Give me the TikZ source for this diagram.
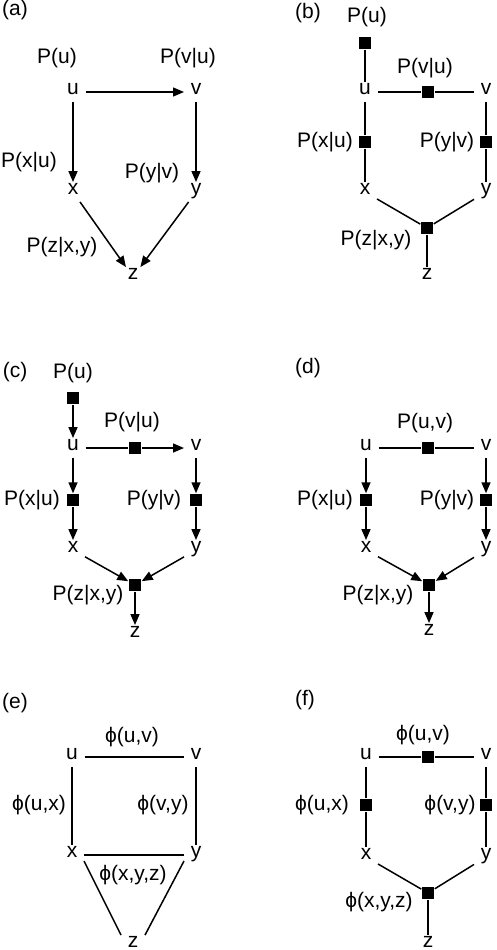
\documentclass[tikz,border=0pt]{standalone}
\usepackage{fontspec}
\setmainfont{Liberation Sans}
\usetikzlibrary{arrows.meta}

\tikzset{
  var/.style={inner sep=6pt,text height=0.52em,text depth=0.12em},
  fac/.style={fill,minimum size=12pt,inner sep=0pt},
  lbl/.style={inner sep=0pt},
  tag/.style={inner sep=0pt},
  arr/.style={-{Triangle[length=11pt,width=9pt]}}
}

\begin{document}
\begin{tikzpicture}[x=1pt,y=-1pt,line width=1.5pt,font=\fontsize{21}{25}\selectfont]
  \useasboundingbox (0,0) rectangle (496,950);

  \node[tag] (atag) at (15,10) {(a)};
  \node[lbl] (apu) at (57,58) {P(u)};
  \node[lbl] (apvu) at (188,58) {P(v|u)};
  \node[var] (au) at (73,92) {u};
  \node[var] (av) at (196,92) {v};
  \node[lbl] (apxu) at (29,162) {P(x|u)};
  \node[lbl] (apyv) at (152,173) {P(y|v)};
  \node[var] (ax) at (73,192) {x};
  \node[var] (ay) at (196,192) {y};
  \node[lbl] (apz) at (62,247) {P(z|x,y)};
  \node[var] (az) at (133,277) {z};
  \draw[arr] (au)--(av);
  \draw[arr] (au)--(ax);
  \draw[arr] (av)--(ay);
  \draw[arr] (ax)--(az);
  \draw[arr] (ay)--(az);

  \node[tag] (btag) at (308,13) {(b)};
  \node[lbl] (bpu) at (367,17) {P(u)};
  \node[fac] (bfu) at (365,43) {};
  \node[var] (bu) at (365,92) {u};
  \node[lbl] (bpvu) at (425,68) {P(v|u)};
  \node[fac] (bfvu) at (428,92) {};
  \node[var] (bv) at (486,92) {v};
  \node[lbl] (bpxu) at (325,142) {P(x|u)};
  \node[fac] (bfxu) at (365,142) {};
  \node[lbl] (bpyv) at (447,142) {P(y|v)};
  \node[fac] (bfyv) at (486,142) {};
  \node[var] (bx) at (365,192) {x};
  \node[var] (by) at (486,192) {y};
  \node[fac] (bfz) at (427,228) {};
  \node[lbl] (bpz) at (376,240) {P(z|x,y)};
  \node[var] (bz) at (427,277) {z};
  \draw (bfu)--(bu);
  \draw (bu)--(bfvu)--(bv);
  \draw (bu)--(bfxu)--(bx);
  \draw (bv)--(bfyv)--(by);
  \draw (bx)--(bfz)--(by);
  \draw (bfz)--(bz);

  \node[tag] (ctag) at (15,372) {(c)};
  \node[lbl] (cpu) at (73,373) {P(u)};
  \node[fac] (cfu) at (73,398) {};
  \node[var] (cu) at (73,448) {u};
  \node[lbl] (cpvu) at (132,422) {P(v|u)};
  \node[fac] (cfvu) at (135,448) {};
  \node[var] (cv) at (196,448) {v};
  \node[lbl] (cpxu) at (32,500) {P(x|u)};
  \node[fac] (cfxu) at (73,500) {};
  \node[lbl] (cpyv) at (154,500) {P(y|v)};
  \node[fac] (cfyv) at (196,500) {};
  \node[var] (cx) at (73,550) {x};
  \node[var] (cy) at (196,550) {y};
  \node[fac] (cfz) at (135,585) {};
  \node[lbl] (cpz) at (88,595) {P(z|x,y)};
  \node[var] (cz) at (135,635) {z};
  \draw[arr] (cfu)--(cu);
  \draw (cu)--(cfvu);
  \draw[arr] (cfvu)--(cv);
  \draw[arr] (cu)--(cfxu);
  \draw[arr] (cfxu)--(cx);
  \draw[arr] (cv)--(cfyv);
  \draw[arr] (cfyv)--(cy);
  \draw[arr] (cx)--(cfz);
  \draw[arr] (cy)--(cfz);
  \draw[arr] (cfz)--(cz);

  \node[tag] (dtag) at (308,368) {(d)};
  \node[lbl] (dpuv) at (425,423) {P(u,v)};
  \node[var] (du) at (366,448) {u};
  \node[fac] (dfuv) at (428,448) {};
  \node[var] (dv) at (486,448) {v};
  \node[lbl] (dpxu) at (325,500) {P(x|u)};
  \node[fac] (dfxu) at (366,500) {};
  \node[lbl] (dpyv) at (447,500) {P(y|v)};
  \node[fac] (dfyv) at (486,500) {};
  \node[var] (dx) at (366,550) {x};
  \node[var] (dy) at (486,550) {y};
  \node[fac] (dfz) at (429,585) {};
  \node[lbl] (dpz) at (378,595) {P(z|x,y)};
  \node[var] (dz) at (429,633) {z};
  \draw (du)--(dfuv)--(dv);
  \draw[arr] (du)--(dfxu);
  \draw[arr] (dfxu)--(dx);
  \draw[arr] (dv)--(dfyv);
  \draw[arr] (dfyv)--(dy);
  \draw[arr] (dx)--(dfz);
  \draw[arr] (dy)--(dfz);
  \draw[arr] (dfz)--(dz);

  \node[tag] (etag) at (15,703) {(e)};
  \node[lbl] (epuv) at (132,737) {ϕ(u,v)};
  \node[var] (eu) at (72,757) {u};
  \node[var] (ev) at (196,757) {v};
  \node[lbl] (epux) at (39,805) {ϕ(u,x)};
  \node[lbl] (epvy) at (163,805) {ϕ(v,y)};
  \node[var] (ex) at (72,855) {x};
  \node[var] (ey) at (196,855) {y};
  \node[lbl] (epxyz) at (133,875) {ϕ(x,y,z)};
  \node[var] (ez) at (133,945) {z};
  \draw (eu)--(ev);
  \draw (eu)--(ex);
  \draw (ev)--(ey);
  \draw (ex)--(ey);
  \draw ([yshift=-6pt]ex.east)--(ez.north west);
  \draw ([yshift=-6pt]ey.west)--(ez.north east);

  \node[tag] (ftag) at (305,700) {(f)};
  \node[lbl] (fpuv) at (423,735) {ϕ(u,v)};
  \node[var] (fu) at (366,757) {u};
  \node[fac] (ffuv) at (428,757) {};
  \node[var] (fv) at (486,757) {v};
  \node[lbl] (fpux) at (322,805) {ϕ(u,x)};
  \node[fac] (ffux) at (366,805) {};
  \node[lbl] (fpvy) at (450,805) {ϕ(v,y)};
  \node[fac] (ffvy) at (486,805) {};
  \node[var] (fx) at (366,857) {x};
  \node[var] (fy) at (486,857) {y};
  \node[fac] (ffz) at (428,893) {};
  \node[lbl] (fpxyz) at (379,902) {ϕ(x,y,z)};
  \node[var] (fz) at (428,945) {z};
  \draw (fu)--(ffuv)--(fv);
  \draw (fu)--(ffux)--(fx);
  \draw (fv)--(ffvy)--(fy);
  \draw (fx)--(ffz)--(fy);
  \draw (ffz)--(fz);
\end{tikzpicture}
\end{document}
